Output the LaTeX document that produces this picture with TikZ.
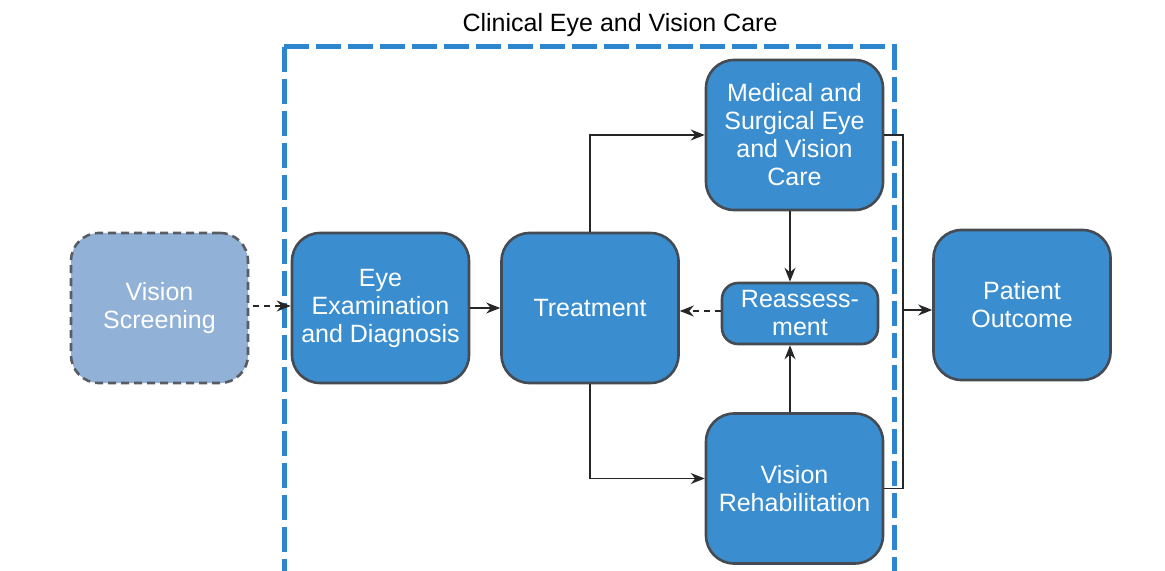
\documentclass[tikz,border=0pt]{standalone}
\usepackage{fontspec}
\setmainfont{Liberation Sans}
\usetikzlibrary{arrows.meta,calc}
\definecolor{boxblue}{HTML}{3A8ED0}
\definecolor{boxedge}{HTML}{454B52}
\definecolor{framblue}{HTML}{2E86CE}
\definecolor{vsfill}{HTML}{92B1D6}
\begin{document}
\begin{tikzpicture}[x=0.5pt,y=-0.5pt,
  box/.style={draw=boxedge, line width=1.3pt, fill=boxblue, rounded corners=14pt,
    text=white, align=center, minimum width=88.5pt, minimum height=75pt,
    font=\fontsize{12.5}{14}\selectfont, inner sep=2pt},
  conn/.style={draw=black!85, line width=0.7pt},
  arr/.style={conn, -{Stealth[length=7pt,width=5.5pt]}},
  dasharr/.style={arr, dash pattern=on 3pt off 2.5pt}]
\useasboundingbox (0,0) rectangle (1165,571);
\clip (0,0) rectangle (1165,571);
% frame
\draw[framblue, line width=2.5pt, dash pattern=on 12.5pt off 3.5pt] (284,47) -- (284,600) (284,47) -- (894,47) -- (894,600);
\node[font=\fontsize{12.5}{14}\selectfont] (title) at (620,25) {Clinical Eye and Vision Care};
% nodes
\node[box, fill=vsfill, draw=boxedge!90, dash pattern=on 4pt off 2.5pt] (vs) at (159.5,308) {Vision\\Screening};
\node[box] (eye) at (380.5,308) {Eye\\Examination\\and Diagnosis};
\node[box] (treat) at (590,308) {Treatment};
\node[box] (med) at (794.5,135) {Medical and\\Surgical Eye\\and Vision\\Care};
\node[box, minimum width=78pt, minimum height=30.5pt, rounded corners=8pt] (reass) at (800,313.5) {Reassess-\\ment};
\node[box] (reh) at (794.5,488.5) {Vision\\Rehabilitation};
\node[box] (out) at (1022,305) {Patient\\Outcome};
% connectors
\draw[dasharr] ($(vs.east |- 0,306)+(4,0)$) -- (eye.west |- 0,306);
\draw[arr] (eye.east) -- (treat.west);
\draw[arr] (treat.north) |- (med.west);
\draw[arr] (treat.south) |- ($(reh.west)+(0,-10)$);
\draw[arr] (med.south -| 790,0) -- (reass.north -| 790,0);
\draw[arr] (reh.north -| 790,0) -- (reass.south -| 790,0);
\draw[dasharr] (reass.west |- 0,311) -- (treat.east |- 0,311);
\coordinate (bx) at (903,310);
\draw[conn] (med.east) -- (med.east -| bx) -- (bx |- reh.east) -- (reh.east);
\draw[arr] (bx) -- (out.west |- bx);
\end{tikzpicture}
\end{document}
